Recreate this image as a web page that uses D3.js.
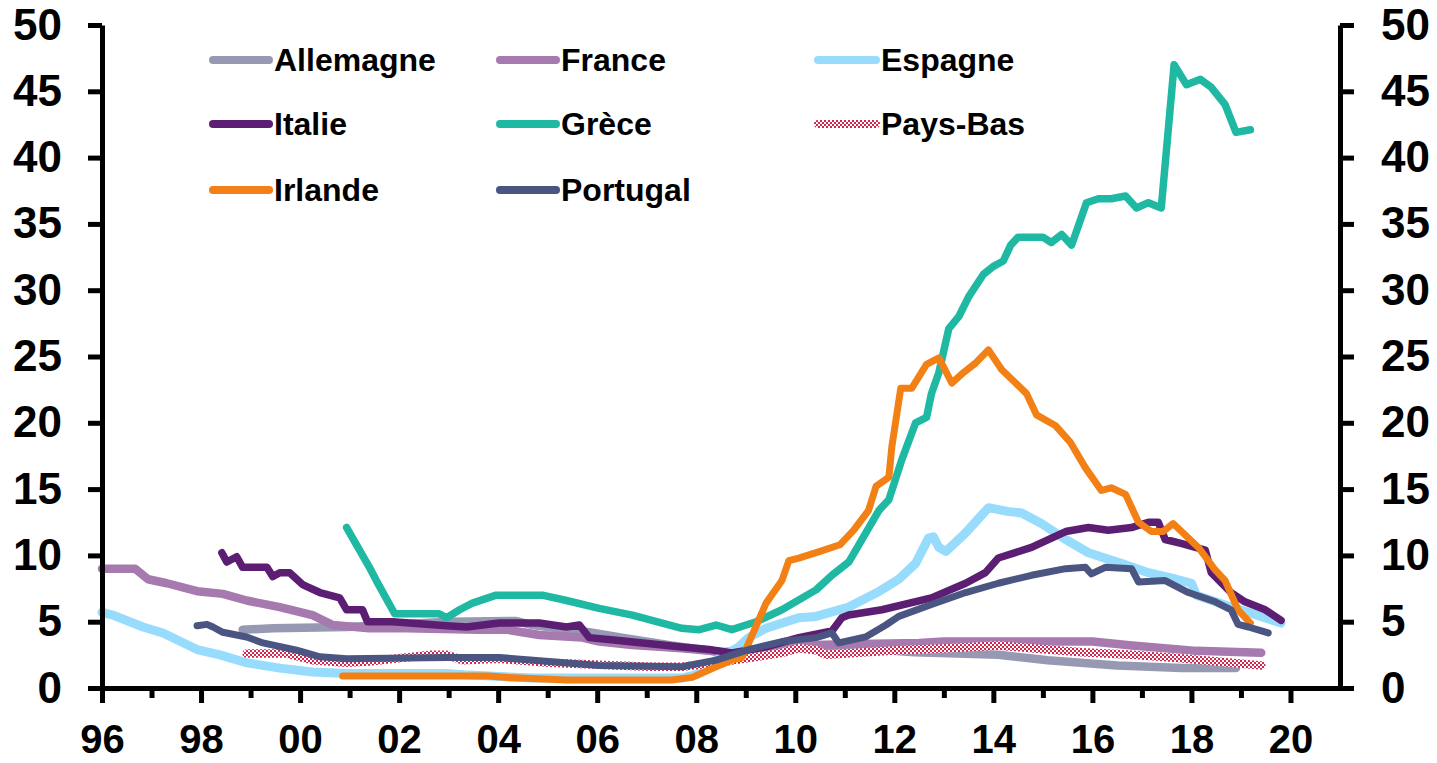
<!DOCTYPE html>
<html>
<head>
<meta charset="utf-8">
<script src="https://d3js.org/d3.v7.min.js"></script>
<style>
  body { margin: 0; background: #fff; }
  svg { display: block; font-family: "Liberation Sans", Arial, sans-serif; }
</style>
</head>
<body>
<svg id="chart"></svg>
<script>
// [année décimale, valeur]
const allemagne = [[1998.84, 4.4], [1999.45, 4.5], [2000.94, 4.6], [2003.0, 5.0], [2004.37, 5.05], [2004.69, 4.75],
  [2005.84, 4.2], [2006.5, 3.8], [2007.5, 3.2], [2008.5, 2.7], [2009.5, 3.0], [2010.5, 3.1], [2011.3, 3.0],
  [2012.4, 2.7], [2014.1, 2.5], [2015.1, 2.1], [2016.5, 1.7], [2017.8, 1.5], [2018.9, 1.5]];

const france = [[1996.0, 9.0], [1996.67, 9.0], [1996.93, 8.2], [1997.31, 7.9], [1997.92, 7.3], [1998.44, 7.1],
  [1998.92, 6.6], [1999.59, 6.1], [2000.25, 5.5], [2000.66, 4.75], [2001.4, 4.5], [2002.15, 4.5], [2003.62, 4.4],
  [2004.17, 4.4], [2004.83, 4.0], [2005.7, 3.8], [2006.04, 3.5], [2006.71, 3.25], [2007.71, 3.0], [2008.72, 2.65],
  [2009.2, 2.9], [2010.0, 3.2], [2011.0, 3.3], [2012.5, 3.4], [2013.0, 3.5], [2016.0, 3.5], [2016.8, 3.2],
  [2018.1, 2.8], [2019.41, 2.65]];

const espagne = [[1996.0, 5.7], [1996.22, 5.5], [1996.83, 4.6], [1997.23, 4.15], [1997.92, 2.9], [1998.38, 2.5],
  [1998.92, 1.9], [1999.59, 1.5], [2000.25, 1.2], [2000.94, 1.1], [2002.96, 1.1], [2003.3, 1.0], [2004.69, 0.75],
  [2007.71, 0.75], [2008.0, 1.0], [2008.4, 2.1], [2008.86, 3.1], [2009.06, 3.8], [2009.41, 4.5], [2010.07, 5.3],
  [2010.42, 5.4], [2011.08, 6.1], [2011.7, 7.3], [2012.09, 8.2], [2012.43, 9.4], [2012.69, 11.3], [2012.79, 11.4],
  [2012.9, 10.6], [2013.04, 10.3], [2013.44, 11.7], [2013.9, 13.6], [2014.31, 13.3], [2014.57, 13.2],
  [2014.97, 12.4], [2015.46, 11.2], [2015.92, 10.2], [2016.58, 9.4], [2017.13, 8.7], [2017.59, 8.3],
  [2018.0, 7.9], [2018.1, 7.0], [2018.8, 6.1], [2019.15, 5.7], [2019.81, 4.9]];

const italie = [[1998.42, 10.2], [1998.52, 9.5], [1998.72, 9.9], [1998.84, 9.1], [1999.33, 9.1], [1999.45, 8.4],
  [1999.59, 8.7], [1999.79, 8.7], [2000.05, 7.8], [2000.4, 7.2], [2000.8, 6.8], [2000.94, 5.9], [2001.26, 5.9],
  [2001.36, 5.0], [2001.87, 5.0], [2002.96, 4.7], [2003.36, 4.6], [2004.02, 4.9], [2004.83, 4.9], [2005.38, 4.6],
  [2005.64, 4.75], [2005.84, 3.8], [2006.38, 3.6], [2007.71, 3.1], [2008.26, 2.9], [2008.72, 2.65],
  [2009.41, 3.1], [2010.07, 3.8], [2010.74, 4.3], [2010.94, 5.3], [2011.08, 5.5], [2011.75, 5.9], [2012.75, 6.8],
  [2013.44, 7.9], [2013.84, 8.7], [2014.1, 9.8], [2014.77, 10.6], [2015.46, 11.8], [2015.92, 12.1],
  [2016.32, 11.9], [2016.79, 12.1], [2017.13, 12.5], [2017.33, 12.5], [2017.47, 11.2], [2017.79, 10.9],
  [2018.28, 10.4], [2018.4, 8.7], [2018.8, 7.2], [2019.08, 6.5], [2019.49, 5.9], [2019.81, 5.1]];

const grece = [[2000.94, 12.1], [2001.4, 9.1], [2001.54, 8.1], [2001.91, 5.6], [2002.81, 5.6], [2002.96, 5.3],
  [2003.22, 5.9], [2003.48, 6.4], [2003.96, 7.0], [2004.89, 7.0], [2005.38, 6.6], [2006.04, 6.0], [2006.71, 5.5],
  [2007.71, 4.5], [2008.06, 4.4], [2008.4, 4.75], [2008.72, 4.4], [2009.21, 5.0], [2009.73, 5.9], [2010.42, 7.4],
  [2010.74, 8.5], [2011.08, 9.5], [2011.69, 13.4], [2011.89, 14.2], [2012.15, 17.2], [2012.43, 20.0],
  [2012.65, 20.4], [2012.75, 22.2], [2012.9, 23.8], [2013.1, 27.1], [2013.3, 28.0], [2013.5, 29.5],
  [2013.8, 31.2], [2014.0, 31.8], [2014.2, 32.2], [2014.35, 33.4], [2014.5, 34.0], [2015.0, 34.0],
  [2015.17, 33.6], [2015.38, 34.2], [2015.58, 33.4], [2015.88, 36.6], [2016.12, 36.9], [2016.38, 36.9],
  [2016.67, 37.1], [2016.89, 36.2], [2017.13, 36.6], [2017.39, 36.2], [2017.65, 47.0], [2017.9, 45.5],
  [2018.18, 45.9], [2018.4, 45.3], [2018.68, 44.0], [2018.9, 41.9], [2019.19, 42.1]];

const paysBas = [[1998.92, 2.6], [1999.73, 2.6], [2000.25, 2.1], [2000.94, 1.9], [2001.4, 2.0], [2002.61, 2.5],
  [2002.96, 2.5], [2003.28, 2.1], [2004.0, 2.2], [2005.03, 1.9], [2007.05, 1.6], [2007.71, 1.6], [2008.4, 1.9],
  [2009.06, 2.25], [2009.73, 2.65], [2010.07, 3.0], [2010.42, 2.85], [2010.62, 2.5], [2011.42, 2.7],
  [2012.09, 2.85], [2013.1, 3.0], [2014.1, 3.2], [2014.77, 3.0], [2015.78, 2.7], [2016.79, 2.5],
  [2017.79, 2.25], [2018.8, 1.9], [2019.41, 1.7]];

const irlande = [[2000.86, 0.9], [2003.8, 0.9], [2004.2, 0.8], [2005.38, 0.6], [2007.5, 0.6], [2007.92, 0.8],
  [2008.4, 1.6], [2008.72, 2.1], [2008.92, 2.3], [2009.06, 3.4], [2009.41, 6.4], [2009.73, 8.1], [2009.87, 9.6],
  [2010.07, 9.8], [2010.5, 10.3], [2010.9, 10.8], [2011.18, 11.9], [2011.48, 13.4], [2011.63, 15.2],
  [2011.89, 15.9], [2011.95, 18.2], [2012.13, 22.6], [2012.35, 22.6], [2012.65, 24.4], [2012.9, 24.9],
  [2013.16, 23.0], [2013.4, 23.8], [2013.64, 24.5], [2013.9, 25.5], [2014.17, 24.0], [2014.45, 23.0],
  [2014.67, 22.2], [2014.87, 20.6], [2015.25, 19.8], [2015.56, 18.5], [2015.86, 16.6], [2016.18, 14.9],
  [2016.38, 15.1], [2016.67, 14.6], [2016.93, 12.5], [2017.19, 11.8], [2017.43, 11.8], [2017.63, 12.4],
  [2018.14, 10.6], [2018.48, 8.9], [2018.68, 8.1], [2018.94, 5.9], [2019.19, 4.9]];

const portugal = [[1997.92, 4.7], [1998.12, 4.8], [1998.24, 4.6], [1998.44, 4.2], [1998.92, 3.85], [1999.25, 3.4],
  [1999.93, 2.85], [2000.4, 2.35], [2000.94, 2.2], [2003.0, 2.3], [2004.02, 2.3], [2006.04, 1.7], [2007.71, 1.6],
  [2008.4, 2.1], [2009.06, 2.9], [2009.73, 3.5], [2010.42, 3.8], [2010.74, 4.15], [2010.88, 3.4], [2011.42, 3.85],
  [2011.83, 4.75], [2012.09, 5.4], [2012.75, 6.3], [2013.44, 7.2], [2014.1, 7.9], [2014.77, 8.5], [2015.46, 9.0],
  [2015.86, 9.1], [2015.98, 8.6], [2016.26, 9.1], [2016.79, 9.0], [2016.93, 8.0], [2017.47, 8.1],
  [2017.94, 7.2], [2018.48, 6.5], [2018.8, 5.9], [2018.94, 4.8], [2019.15, 4.6], [2019.55, 4.15]];

const yTicks = [0, 5, 10, 15, 20, 25, 30, 35, 40, 45, 50];
const xMajor = [1996, 1998, 2000, 2002, 2004, 2006, 2008, 2010, 2012, 2014, 2016, 2018, 2020];
const xMinor = [1997, 1999, 2001, 2003, 2005, 2007, 2009, 2011, 2013, 2015, 2017, 2019];

// ordre de la légende (ligne par ligne) = ordre de tracé
const series = [
  { name: 'Allemagne', data: allemagne, color: '#9799b2', width: 8.5 },
  { name: 'France', data: france, color: '#a67aae', width: 8.5 },
  { name: 'Espagne', data: espagne, color: '#97dcfd', width: 9 },
  { name: 'Italie', data: italie, color: '#5b1e72', width: 7.5 },
  { name: 'Grèce', data: grece, color: '#1fb8a3', width: 7.5 },
  { name: 'Pays-Bas', data: paysBas, color: 'url(#checker)', width: 8.5 },
  { name: 'Irlande', data: irlande, color: '#f28015', width: 7 },
  { name: 'Portugal', data: portugal, color: '#4b5581', width: 7 }
];

const width = 1437, height = 763;
const svg = d3.select('#chart').attr('width', width).attr('height', height);

// motif à damier pour les Pays-Bas
const pat = svg.append('defs').append('pattern')
  .attr('id', 'checker')
  .attr('patternUnits', 'userSpaceOnUse')
  .attr('width', 4).attr('height', 4);
pat.append('rect').attr('width', 4).attr('height', 4).attr('fill', '#fff');
pat.append('rect').attr('width', 2).attr('height', 2).attr('fill', '#d1264e');
pat.append('rect').attr('x', 2).attr('y', 2).attr('width', 2).attr('height', 2).attr('fill', '#d1264e');

const x = d3.scaleLinear().domain([1996, 2021]).range([102, 1340]);
const y = d3.scaleLinear().domain([0, 50]).range([688, 25]);

const line = d3.line().x(d => x(d[0])).y(d => y(d[1]));

// Series
series.forEach(s => {
  svg.append('path')
    .datum(s.data)
    .attr('fill', 'none')
    .attr('stroke', s.color)
    .attr('stroke-width', s.width)
    .attr('stroke-linejoin', 'round')
    .attr('stroke-linecap', 'round')
    .attr('d', line);
});

// Axes
function styleAxis(g, size) {
  g.selectAll('path.domain').attr('stroke', '#000').attr('stroke-width', 5);
  g.selectAll('.tick line').attr('stroke', '#000').attr('stroke-width', 5);
  g.selectAll('.tick text')
    .attr('fill', '#000')
    .attr('font-size', size + 'px')
    .attr('font-weight', 'bold')
    .attr('font-family', '"Liberation Sans", Arial, sans-serif');
}

svg.append('g')
  .attr('transform', `translate(${x(1996)},0)`)
  .call(d3.axisLeft(y).tickValues(yTicks).tickSize(14).tickSizeOuter(0).tickPadding(26))
  .call(g => styleAxis(g, 44));

svg.append('g')
  .attr('transform', `translate(${x(2021)},0)`)
  .call(d3.axisRight(y).tickValues(yTicks).tickSize(14).tickSizeOuter(0).tickPadding(27))
  .call(g => styleAxis(g, 44));

svg.append('g')
  .attr('transform', `translate(0,${y(0)})`)
  .call(d3.axisBottom(x).tickValues(xMinor).tickSize(10).tickSizeOuter(0).tickFormat(''))
  .call(g => styleAxis(g, 40));

svg.append('g')
  .attr('transform', `translate(0,${y(0)})`)
  .call(d3.axisBottom(x).tickValues(xMajor).tickSize(15).tickSizeOuter(0).tickPadding(22)
    .tickFormat(d => String(d % 100).padStart(2, '0')))
  .call(g => styleAxis(g, 40));

// Legend
const legendCols = [213, 500, 818];
const legendRows = [60, 124, 190];
const legend = svg.append('g');
series.forEach((s, i) => {
  const col = i % 3;
  const lx = legendCols[col];
  const ly = legendRows[Math.floor(i / 3)];
  const len = col === 2 ? 58 : 56;
  legend.append('line')
    .attr('x1', lx).attr('x2', lx + len)
    .attr('y1', ly).attr('y2', ly)
    .attr('stroke', s.color)
    .attr('stroke-width', 8)
    .attr('stroke-linecap', 'round');
  legend.append('text')
    .attr('x', lx + len + 5)
    .attr('y', ly + 11)
    .attr('font-size', '32px')
    .attr('font-weight', 'bold')
    .attr('fill', '#000')
    .text(s.name);
});
</script>
</body>
</html>
